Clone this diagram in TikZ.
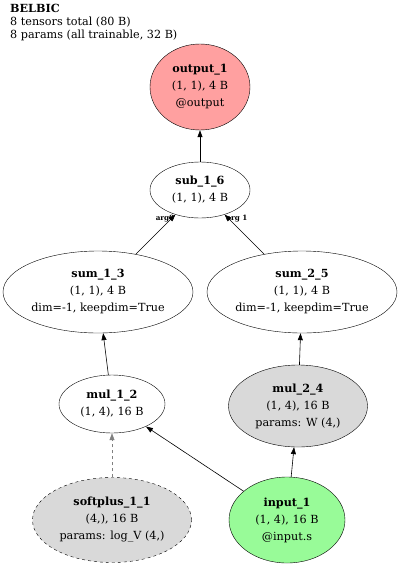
\documentclass[tikz,border=0pt]{standalone}
\usepackage{fontspec}
\setmainfont{DejaVu Serif}
\usepackage{xcolor}
\usetikzlibrary{arrows.meta,shapes.geometric}
\definecolor{outfill}{HTML}{FFA0A0}
\definecolor{parfill}{HTML}{D9D9D9}
\definecolor{infill}{HTML}{98FB98}
\tikzset{
  gnode/.style={draw=black, ellipse, align=center, inner sep=0pt, font=\fontsize{11.2}{17}\selectfont},
  garr/.style={-{Triangle[length=7pt,width=5pt]}, semithick},
  glabel/.style={font=\fontsize{7.2}{8}\selectfont\bfseries, inner sep=0pt}
}
\begin{document}
\begin{tikzpicture}[x=1pt,y=-1pt]
\useasboundingbox (0,0) rectangle (400,565);
\node[anchor=north west, align=left, inner sep=0pt, font=\fontsize{11.2}{13}\selectfont] (title) at (10,4) {\textbf{BELBIC}\\8 tensors total (80 B)\\8 params (all trainable, 32 B)};
\node[gnode, fill=outfill, minimum width=100, minimum height=86] (out1) at (200,87) {\textbf{output\_1}\\(1, 1), 4 B\\@output};
\node[gnode, minimum width=100, minimum height=56] (sub16) at (200,190) {\textbf{sub\_1\_6}\\(1, 1), 4 B};
\node[gnode, minimum width=190, minimum height=82] (sum13) at (98,292) {\textbf{sum\_1\_3}\\(1, 1), 4 B\\dim=-1, keepdim=True};
\node[gnode, minimum width=190, minimum height=82] (sum25) at (302,292) {\textbf{sum\_2\_5}\\(1, 1), 4 B\\dim=-1, keepdim=True};
\node[gnode, minimum width=106, minimum height=58] (mul12) at (112,404) {\textbf{mul\_1\_2}\\(1, 4), 16 B};
\node[gnode, fill=parfill, minimum width=139, minimum height=82] (mul24) at (298,406) {\textbf{mul\_2\_4}\\(1, 4), 16 B\\params: W (4,)};
\node[gnode, fill=parfill, dashed, minimum width=159, minimum height=85] (soft11) at (112,520) {\textbf{softplus\_1\_1}\\(4,), 16 B\\params: log\_V (4,)};
\node[gnode, fill=infill, minimum width=116, minimum height=86] (in1) at (287,520) {\textbf{input\_1}\\(1, 4), 16 B\\@input.s};
\node[glabel] (lbl0) at (165,219) {arg0};
\node[glabel] (lbl1) at (237,219) {arg 1};
\draw[garr] (sub16)--(out1); \draw[garr] (sum13)--(sub16); \draw[garr] (sum25)--(sub16);
\draw[garr] (mul12)--(sum13); \draw[garr] (mul24)--(sum25);
\draw[garr, dashed, gray] (soft11)--(mul12);
\draw[garr] (in1)--(mul12); \draw[garr] (in1)--(mul24);
\end{tikzpicture}
\end{document}
